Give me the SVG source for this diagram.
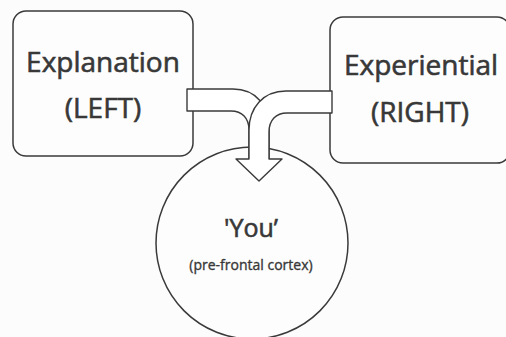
<svg xmlns="http://www.w3.org/2000/svg" width="506" height="337" viewBox="0 0 506 337">
  <style>
    .box { fill: #fdfdfd; stroke: #3a3a3a; stroke-width: 1.5; }
    .flow { fill: #ffffff; stroke: #3a3a3a; stroke-width: 1.4; stroke-linejoin: round; }
    text { font-family: "Open Sans", Lato, sans-serif; fill: #383838; stroke: #383838; stroke-width: 0.6; text-anchor: middle; }
    .big { font-size: 28px; }
    .mid { font-size: 25px; }
    .small { font-size: 14px; stroke-width: 0.35; }
  </style>
  <rect width="506" height="337" fill="#fcfcfc"/>

  <g id="left-node">
    <rect class="box" x="13" y="11" width="180" height="145" rx="13"/>
    <text class="big" x="103" y="72">Explanation</text>
    <text class="big" x="103" y="118">(LEFT)</text>
  </g>

  <g id="right-node">
    <rect class="box" x="330" y="17" width="180" height="146" rx="13"/>
    <text class="big" x="421" y="75">Experiential</text>
    <text class="big" x="420" y="122">(RIGHT)</text>
  </g>

  <g id="you-node">
    <circle class="box" cx="252" cy="243" r="96"/>
    <text class="mid" x="251" y="237">'You’</text>
    <text class="small" x="251" y="270">(pre-frontal cortex)</text>
  </g>

  <g id="connectors">
    <!-- band leaving the left box, bending down into the stem -->
    <path class="flow" d="M187 89 H233 C256 89 269 106 269 128 V160 H249 V130 C249 118 242 111 231 111 H187 Z"/>
    <!-- band leaving the right box, crossing over and ending in the arrowhead -->
    <path class="flow" d="M332 91 H286 C263 91 249 108 249 130 V159 H236 L259 181 L282 159 H269 V132 C269 120 276 113 287 113 H332 Z"/>
  </g>
</svg>
